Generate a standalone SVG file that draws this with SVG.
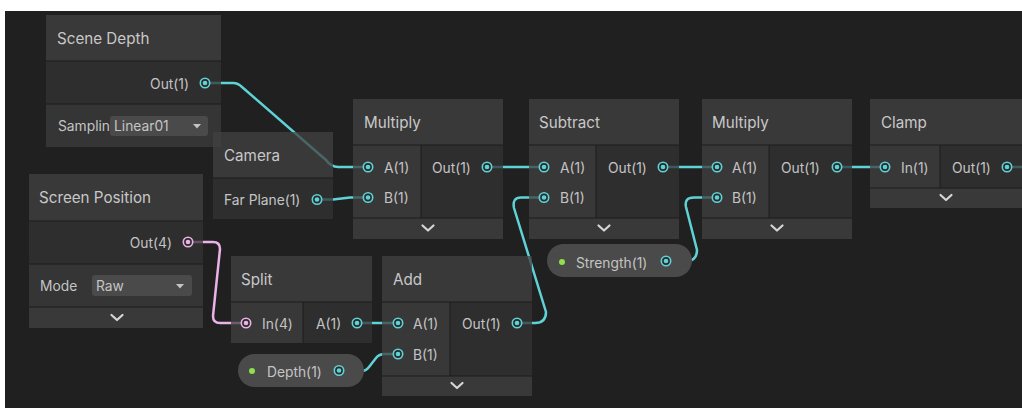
<svg xmlns="http://www.w3.org/2000/svg" width="1022" height="408" viewBox="0 0 1022 408">
  <style>
    text { font-family: Inter, "Liberation Sans", sans-serif; }
    .title { font-size: 15.2px; fill: #c8c8c8; }
    .lbl { font-size: 13.8px; fill: #c4c4c4; }
    .hdr { fill: #414141; fill-opacity: .75; }
    .out { fill: #333333; fill-opacity: .75; }
    .inp { fill: #404040; fill-opacity: .75; }
    .row { fill: #3c3c3c; fill-opacity: .75; }
    .sep { stroke: #1c1c1c; stroke-width: 1; }
    .wire { fill: none; stroke: #5fd2d6; stroke-width: 2.5; stroke-linejoin: round; stroke-linecap: round; }
    .wire.pink { stroke: #eab2e6; }
    .ring { fill: #2b2b2b; stroke: #5fd2d6; stroke-width: 1.6; }
    .dot { fill: #5fd2d6; }
    .ring.pink { stroke: #eab2e6; }
    .dot.pink { fill: #eab2e6; }
    .chev { fill: none; stroke: #d6d6d6; stroke-width: 2.2; stroke-linecap: round; stroke-linejoin: round; }
    .drop { fill: #4a4a4a; }
    .arrow { fill: #c4c4c4; }
    .pill { fill: #4a4a4a; }
    .live { fill: #8fe04c; }
  </style>
  <defs>
    <g id="port"><circle r="4.7" class="ring"/><circle r="2.3" class="dot"/></g>
    <g id="portPink"><circle r="4.7" class="ring pink"/><circle r="2.3" class="dot pink"/></g>
    <path id="chevron" class="chev" d="M-5.5,-2.5 L0,2.5 L5.5,-2.5"/>
    <path id="caret" class="arrow" d="M-4,-2 L4,-2 L0,2.5 Z"/>
  </defs>

  <!-- canvas -->
  <rect width="1022" height="408" fill="#ffffff"/>
  <rect x="5" y="11" width="1017" height="397" fill="#202020"/>

  <!-- connectors sit under the translucent node bodies -->
  <g id="connectors">
    <path class="wire" d="M205,83 H233 Q238,83 242,87 L326,160 Q331,167 338,167 H368"/>
    <path class="wire" d="M317,199.5 H333 L350,197.5 H368"/>
    <path class="wire" d="M487,167 H544"/>
    <path class="wire" d="M663,167 H717"/>
    <path class="wire" d="M837,167 H885"/>
    <path class="wire" d="M1007,167 H1022"/>
    <path class="wire pink" d="M188,242 H213 Q220,242 220,249 L213,316 Q213,323 220,323 H246"/>
    <path class="wire" d="M357,323 H398"/>
    <path class="wire" d="M339,371 H361 Q366,371 369,367 L376,358 Q379,354 385,354 H398"/>
    <path class="wire" d="M517,323 H535 Q546,323 546,312 L514,208 Q512,197.5 521,197.5 H544"/>
    <path class="wire" d="M666,261 H688 Q697,260 697,250 L686,207 Q684,197.5 694,197.5 H717"/>
  </g>

  <!-- Scene Depth -->
  <g id="node-scene-depth">
    <rect class="hdr" x="46" y="15" width="175" height="46"/>
    <rect class="out" x="46" y="61" width="175" height="43"/>
    <rect class="row" x="46" y="104" width="175" height="43"/>
    <line class="sep" x1="46" y1="61" x2="221" y2="61"/>
    <line class="sep" x1="46" y1="104" x2="221" y2="104"/>
    <text class="title" x="57" y="44">Scene Depth</text>
    <text class="lbl" x="189" y="89" text-anchor="end">Out(1)</text>
    <use href="#port" x="205" y="83"/>
    <text class="lbl" x="58" y="131">Samplin</text>
    <rect class="drop" x="110" y="116" width="98" height="20" rx="3"/>
    <text class="lbl" x="114" y="131">Linear01</text>
    <use href="#caret" x="197" y="126"/>
  </g>

  <!-- Camera -->
  <g id="node-camera">
    <rect class="hdr" x="213" y="132" width="120" height="46"/>
    <rect class="out" x="213" y="178" width="120" height="41"/>
    <line class="sep" x1="213" y1="178" x2="333" y2="178"/>
    <text class="title" x="224" y="161">Camera</text>
    <text class="lbl" x="224" y="205">Far Plane(1)</text>
    <use href="#port" x="317" y="199.5"/>
  </g>

  <!-- Multiply (first) -->
  <g id="node-multiply-1">
    <rect class="hdr" x="353" y="99" width="150" height="46"/>
    <rect class="inp" x="353" y="145" width="68" height="73"/>
    <rect class="out" x="421" y="145" width="82" height="73"/>
    <rect class="hdr" x="353" y="218" width="150" height="21"/>
    <line class="sep" x1="353" y1="145" x2="503" y2="145"/>
    <line class="sep" x1="421" y1="145" x2="421" y2="218"/>
    <line class="sep" x1="353" y1="218" x2="503" y2="218"/>
    <text class="title" x="364" y="128">Multiply</text>
    <use href="#port" x="368" y="167"/>
    <text class="lbl" x="384" y="172.5">A(1)</text>
    <use href="#port" x="368" y="197.5"/>
    <text class="lbl" x="384" y="203">B(1)</text>
    <text class="lbl" x="432" y="172.5">Out(1)</text>
    <use href="#port" x="487" y="167"/>
    <use href="#chevron" x="428" y="228"/>
  </g>

  <!-- Subtract -->
  <g id="node-subtract">
    <rect class="hdr" x="529" y="99" width="150" height="46"/>
    <rect class="inp" x="529" y="145" width="67" height="73"/>
    <rect class="out" x="596" y="145" width="83" height="73"/>
    <rect class="hdr" x="529" y="218" width="150" height="21"/>
    <line class="sep" x1="529" y1="145" x2="679" y2="145"/>
    <line class="sep" x1="596" y1="145" x2="596" y2="218"/>
    <line class="sep" x1="529" y1="218" x2="679" y2="218"/>
    <text class="title" x="539" y="128">Subtract</text>
    <use href="#port" x="544" y="167"/>
    <text class="lbl" x="560" y="172.5">A(1)</text>
    <use href="#port" x="544" y="197.5"/>
    <text class="lbl" x="560" y="203">B(1)</text>
    <text class="lbl" x="608" y="172.5">Out(1)</text>
    <use href="#port" x="663" y="167"/>
    <use href="#chevron" x="604" y="228"/>
  </g>

  <!-- Multiply (second) -->
  <g id="node-multiply-2">
    <rect class="hdr" x="702" y="99" width="150" height="46"/>
    <rect class="inp" x="702" y="145" width="67" height="73"/>
    <rect class="out" x="769" y="145" width="83" height="73"/>
    <rect class="hdr" x="702" y="218" width="150" height="21"/>
    <line class="sep" x1="702" y1="145" x2="852" y2="145"/>
    <line class="sep" x1="769" y1="145" x2="769" y2="218"/>
    <line class="sep" x1="702" y1="218" x2="852" y2="218"/>
    <text class="title" x="712" y="128">Multiply</text>
    <use href="#port" x="717" y="167"/>
    <text class="lbl" x="732" y="172.5">A(1)</text>
    <use href="#port" x="717" y="197.5"/>
    <text class="lbl" x="732" y="203">B(1)</text>
    <text class="lbl" x="781" y="172.5">Out(1)</text>
    <use href="#port" x="837" y="167"/>
    <use href="#chevron" x="777" y="228"/>
  </g>

  <!-- Clamp -->
  <g id="node-clamp">
    <rect class="hdr" x="870" y="99" width="160" height="46"/>
    <rect class="inp" x="870" y="145" width="70" height="43"/>
    <rect class="out" x="940" y="145" width="90" height="43"/>
    <rect class="hdr" x="870" y="188" width="160" height="20"/>
    <line class="sep" x1="870" y1="145" x2="1022" y2="145"/>
    <line class="sep" x1="940" y1="145" x2="940" y2="188"/>
    <line class="sep" x1="870" y1="188" x2="1022" y2="188"/>
    <text class="title" x="881" y="128">Clamp</text>
    <use href="#port" x="885" y="167"/>
    <text class="lbl" x="901" y="172.5">In(1)</text>
    <text class="lbl" x="952" y="172.5">Out(1)</text>
    <use href="#port" x="1007" y="167"/>
    <use href="#chevron" x="946" y="197.5"/>
  </g>

  <!-- Screen Position -->
  <g id="node-screen-position">
    <rect class="hdr" x="29" y="174" width="174" height="47"/>
    <rect class="out" x="29" y="221" width="174" height="43"/>
    <rect class="row" x="29" y="264" width="174" height="43"/>
    <rect class="hdr" x="29" y="307" width="174" height="21"/>
    <line class="sep" x1="29" y1="221" x2="203" y2="221"/>
    <line class="sep" x1="29" y1="264" x2="203" y2="264"/>
    <line class="sep" x1="29" y1="307" x2="203" y2="307"/>
    <text class="title" x="39" y="203">Screen Position</text>
    <text class="lbl" x="172" y="248" text-anchor="end">Out(4)</text>
    <use href="#portPink" x="188" y="242"/>
    <text class="lbl" x="40" y="290.5">Mode</text>
    <rect class="drop" x="92" y="275" width="100" height="21" rx="3"/>
    <text class="lbl" x="96" y="290.5">Raw</text>
    <use href="#caret" x="180" y="286"/>
    <use href="#chevron" x="117" y="317.5"/>
  </g>

  <!-- Split -->
  <g id="node-split">
    <rect class="hdr" x="231" y="256" width="141" height="46"/>
    <rect class="inp" x="231" y="302" width="72" height="41"/>
    <rect class="out" x="303" y="302" width="69" height="41"/>
    <line class="sep" x1="231" y1="302" x2="372" y2="302"/>
    <line class="sep" x1="303" y1="302" x2="303" y2="343"/>
    <text class="title" x="241" y="285">Split</text>
    <use href="#portPink" x="246" y="323"/>
    <text class="lbl" x="262" y="328.5">In(4)</text>
    <text class="lbl" x="316" y="328.5">A(1)</text>
    <use href="#port" x="357" y="323"/>
  </g>

  <!-- Add -->
  <g id="node-add">
    <rect class="hdr" x="382" y="256" width="150" height="46"/>
    <rect class="inp" x="382" y="302" width="68" height="74"/>
    <rect class="out" x="450" y="302" width="82" height="74"/>
    <rect class="hdr" x="382" y="376" width="150" height="20"/>
    <line class="sep" x1="382" y1="302" x2="532" y2="302"/>
    <line class="sep" x1="450" y1="302" x2="450" y2="376"/>
    <line class="sep" x1="382" y1="376" x2="532" y2="376"/>
    <text class="title" x="393" y="285">Add</text>
    <use href="#port" x="398" y="323"/>
    <text class="lbl" x="413" y="328.5">A(1)</text>
    <use href="#port" x="398" y="354"/>
    <text class="lbl" x="413" y="359.5">B(1)</text>
    <text class="lbl" x="462" y="328.5">Out(1)</text>
    <use href="#port" x="517" y="323"/>
    <use href="#chevron" x="457" y="385.5"/>
  </g>

  <!-- Depth property -->
  <g id="node-depth">
    <rect class="pill" x="238" y="354" width="126" height="33" rx="16.5"/>
    <circle class="live" cx="252" cy="371" r="3"/>
    <text class="lbl" x="267" y="376.5">Depth(1)</text>
    <use href="#port" x="339" y="370.5"/>
  </g>

  <!-- Strength property -->
  <g id="node-strength">
    <rect class="pill" x="547" y="244" width="145" height="33" rx="16.5"/>
    <circle class="live" cx="562" cy="262" r="3"/>
    <text class="lbl" x="576" y="267.5">Strength(1)</text>
    <use href="#port" x="666" y="261"/>
  </g>
</svg>
